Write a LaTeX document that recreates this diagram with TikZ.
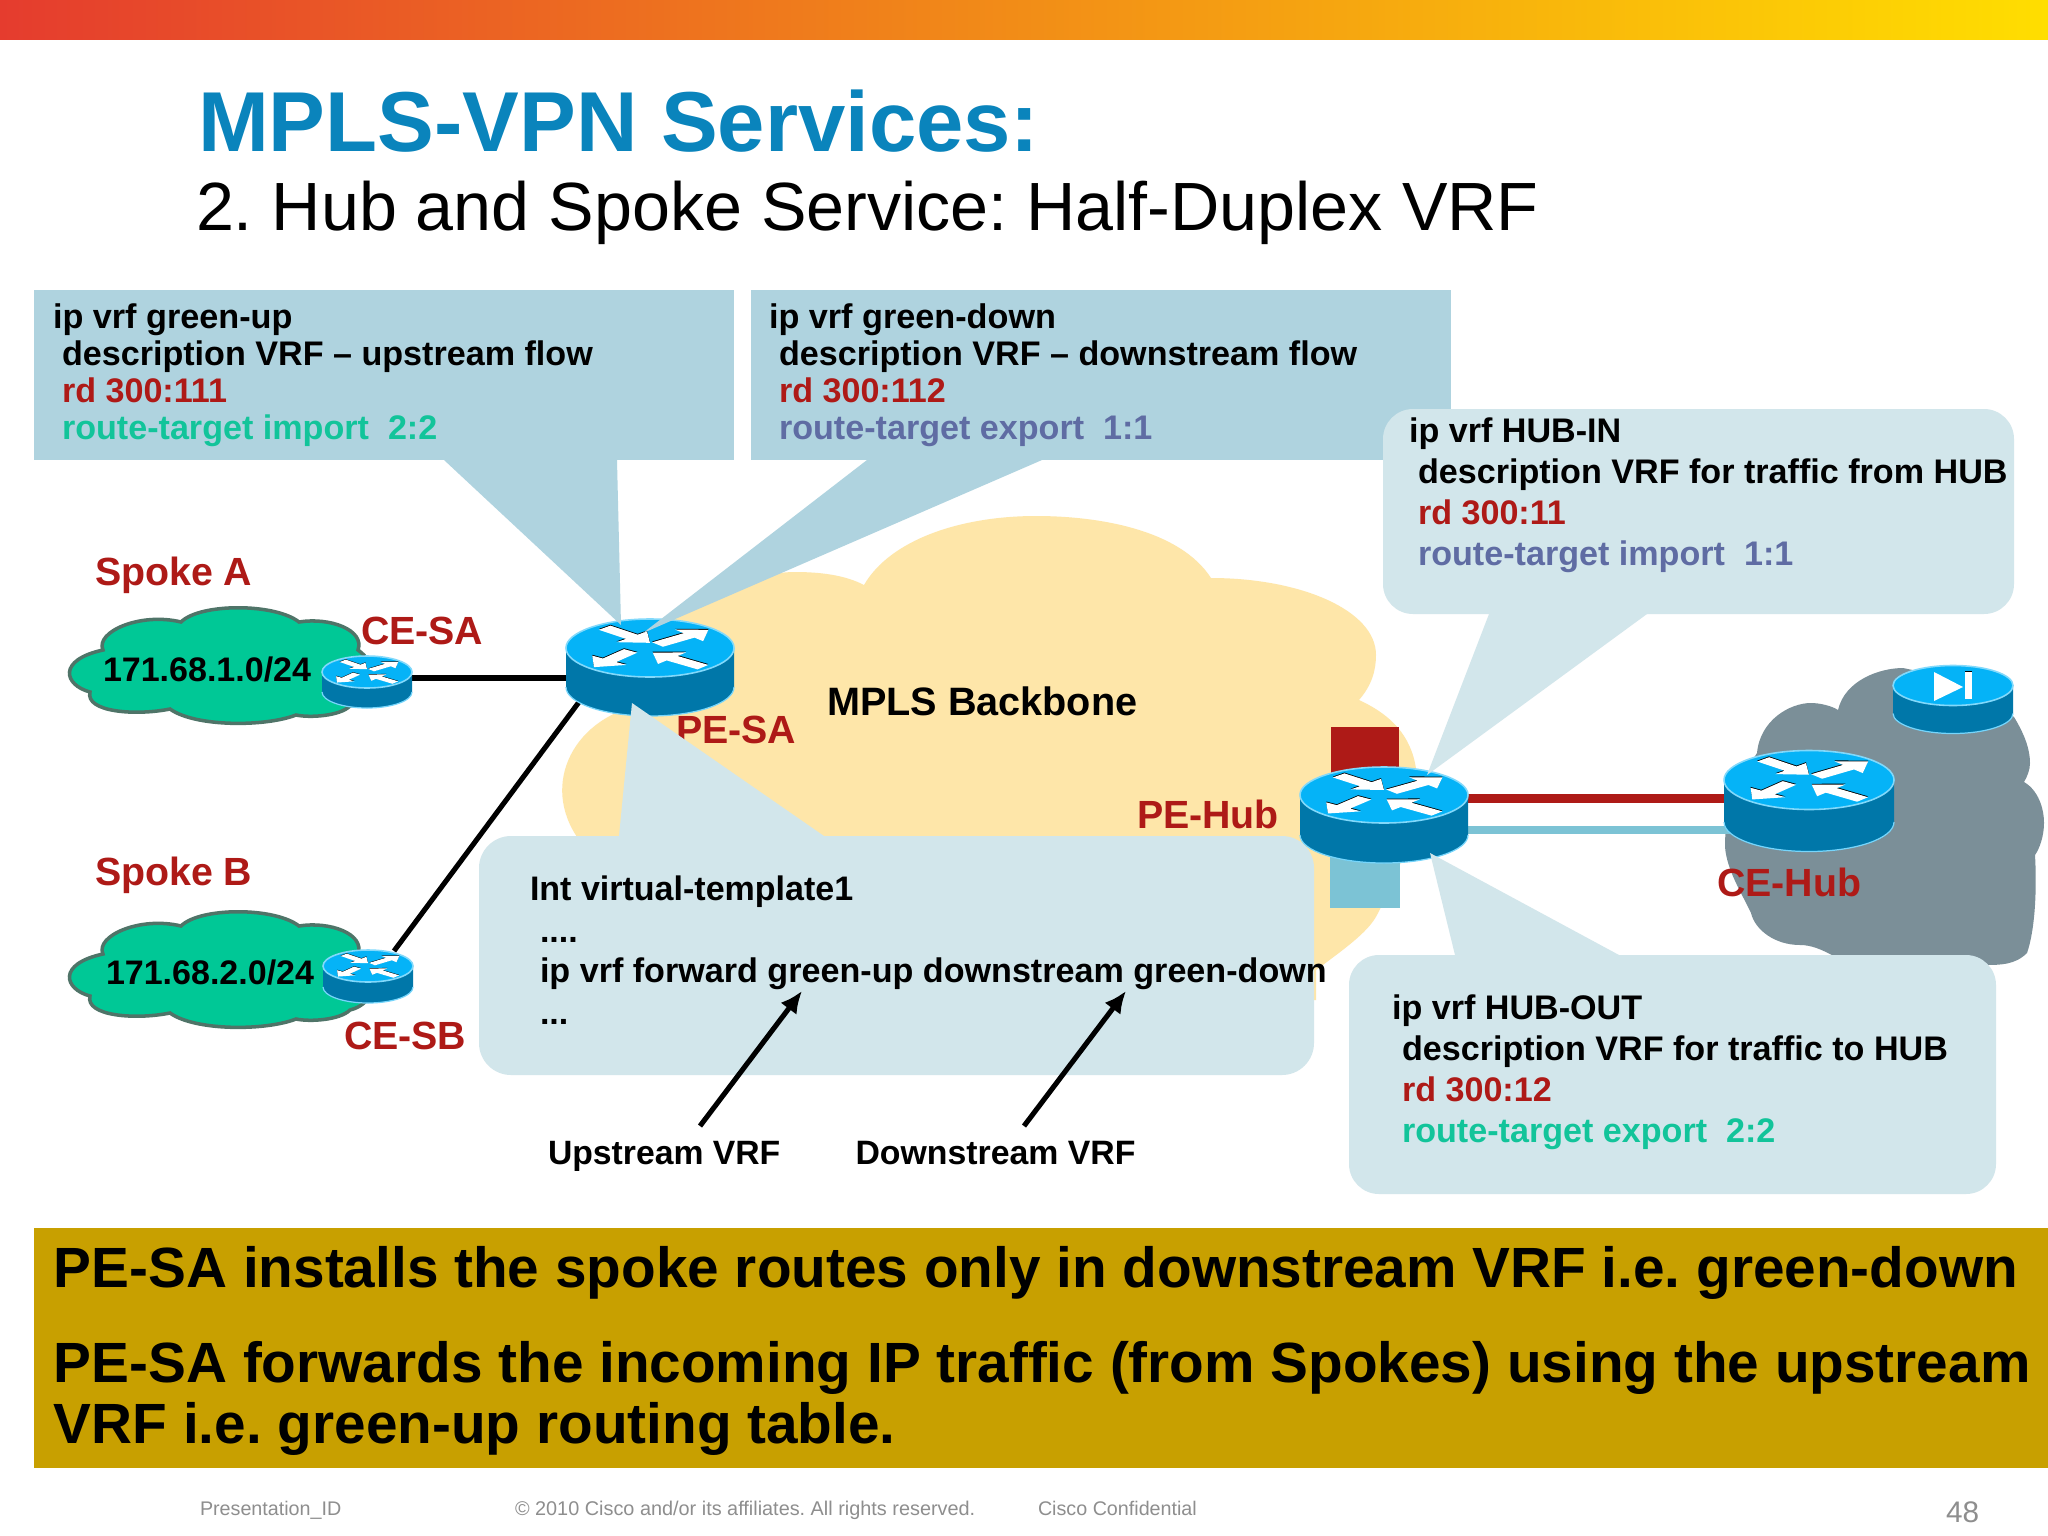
\documentclass[tikz,border=0pt]{standalone}
\usepackage{fontspec}
\setmainfont{Liberation Sans}
\frenchspacing
\usetikzlibrary{arrows.meta}
\definecolor{rtop}{HTML}{05B3F7}
\definecolor{rbody}{HTML}{0077A9}
\definecolor{redt}{HTML}{AE1A17}
\definecolor{greent}{HTML}{12C49A}
\definecolor{bluet}{HTML}{5F6CA3}
\definecolor{calldark}{HTML}{AFD3DF}
\definecolor{calllight}{HTML}{D2E6EB}
\definecolor{mpls}{HTML}{FEE6A9}
\definecolor{spoke}{HTML}{00C896}
\definecolor{spokeline}{HTML}{4F7468}
\definecolor{hubgray}{HTML}{7B8F98}
\definecolor{band}{HTML}{C8A000}
\definecolor{tealline}{HTML}{7CC3D5}
\definecolor{titleblue}{HTML}{0A84BC}
\definecolor{foot}{HTML}{8E8E8E}
\newcommand\fz[1]{\fontsize{\fpeval{#1*0.28453}}{\fpeval{#1*0.34}}\selectfont}
\newcommand\tl[6]{\node[textline,text=#5,font=\bfseries\fz{#4}] (#1) at (#2,#3) {#6};}
\newcommand\arrowshape[1]{(0,-.1) -- (#1-.3,-.1) -- (#1-.3,-.26) -- (#1,0) -- (#1-.3,.26) -- (#1-.3,.1) -- (0,.1) -- cycle}
\newcommand\rarrow[4]{%
  \begin{scope}[shift={(#1,#2+.03)},rotate=#3]
    \fill[black] \arrowshape{#4};
  \end{scope}
  \begin{scope}[shift={(#1,#2)},rotate=#3]
    \fill[white] \arrowshape{#4};
  \end{scope}}
\newcommand\drum[5]{% cx cy rx ry depth
  \begin{scope}[x=.01cm,y=.01cm,shift={(#1,-#2)},xscale=#3,yscale=#4]
    \fill[rbody] (-1,0) -- (-1,{-#5/#4}) arc[start angle=180,end angle=360,radius=1] -- (1,0) -- cycle;
    \draw[rtop!55!white,line width=.35pt] (-1,{-#5/#4}) arc[start angle=180,end angle=360,radius=1];
    \fill[rtop] (0,0) circle[radius=1];
    \draw[rtop!50!white,line width=.45pt] (0,0) circle[radius=1];
  \end{scope}}
\newcommand\router[5]{%
  \drum{#1}{#2}{#3}{#4}{#5}
  \begin{scope}[x=.01cm,y=.01cm,shift={(#1,-#2)},xscale=#3,yscale=#4]
    \rarrow{-.54}{.70}{-44}{.75}
    \rarrow{.09}{.12}{40}{.79}
    \rarrow{-.23}{-.10}{232}{.71}
    \rarrow{.63}{-.66}{140}{.78}
  \end{scope}}
\newcommand\spokecloud{%
  \filldraw[fill=spoke,draw=spokeline,line width=1pt]
    (90,692) .. controls (64,685) and (57,660) .. (103,650)
    .. controls (95,632) and (140,612) .. (181,622)
    .. controls (200,603) and (275,603) .. (299,622)
    .. controls (330,617) and (365,630) .. (358,650)
    .. controls (385,670) and (375,700) .. (350,706)
    .. controls (340,716) and (310,718) .. (296,715)
    .. controls (265,727) and (195,727) .. (170,709)
    .. controls (135,716) and (85,712) .. (90,692) -- cycle;}
\tikzset{textline/.style={anchor=base west,inner sep=0pt,outer sep=0pt}}
\begin{document}
\begin{tikzpicture}[x=.01cm,y=-.01cm]
\useasboundingbox (0,0) rectangle (2048,1536);
\fill[white] (0,0) rectangle (2048,1536);
% top gradient bar
\shade[left color={rgb,255:red,229;green,60;blue,46},middle color={rgb,255:red,240;green,170;blue,35},right color={rgb,255:red,255;green,222;blue,0}] (0,0) rectangle (2048,39);
% titles
\node[textline,text=titleblue,font=\bfseries\fz{85}] (title) at (198,151.5) {MPLS-VPN Services:};
\node[textline,text=black,font=\fz{68.2}] (subtitle) at (196,230) {2. Hub and Spoke Service: Half-Duplex VRF};
% clouds
\fill[mpls] (640,705) .. controls (570,720) and (538,790) .. (583,845) -- (700,1000) -- (1316,1000) -- (1316,970)
  .. controls (1350,945) and (1370,930) .. (1378,913)
  .. controls (1400,870) and (1425,810) .. (1415,763)
  .. controls (1408,730) and (1385,712) .. (1359,700)
  .. controls (1372,685) and (1376,670) .. (1376,655)
  .. controls (1376,610) and (1300,578) .. (1211,578)
  .. controls (1180,530) and (1100,516) .. (1036,516)
  .. controls (960,516) and (890,540) .. (864,585)
  .. controls (845,575) and (820,572) .. (795,572)
  .. controls (750,572) and (700,600) .. (640,640) -- cycle;
\fill[hubgray] (1725,847) .. controls (1725,800) and (1740,780) .. (1757,753)
  .. controls (1760,720) and (1790,703) .. (1811,703)
  .. controls (1820,703) and (1832,706) .. (1838,710)
  .. controls (1845,680) and (1880,668) .. (1903,668)
  -- (1960,680) -- (2014,717)
  .. controls (2025,735) and (2030,750) .. (2030,763)
  .. controls (2030,770) and (2027,777) .. (2024,782)
  .. controls (2038,790) and (2044,808) .. (2044,823)
  .. controls (2044,835) and (2040,848) .. (2035,855)
  .. controls (2037,890) and (2035,930) .. (2027,953)
  .. controls (2015,965) and (2000,965) .. (1984,965)
  -- (1832,955) .. controls (1822,950) and (1812,945) .. (1800,945)
  .. controls (1775,945) and (1755,930) .. (1751,913)
  .. controls (1740,890) and (1727,870) .. (1725,847) -- cycle;
\spokecloud
\begin{scope}[shift={(0,304)}]\spokecloud\end{scope}
% connector end points
\coordinate (cesa) at (400,678);
\coordinate (pesa) at (600,678);
\coordinate (cesb) at (394,951);
\coordinate (pesb) at (579,702);
\coordinate (hubl1) at (1440,798.5);
\coordinate (cel1) at (1750,798.5);
\coordinate (hubl2) at (1440,830);
\coordinate (cel2) at (1750,830);
\draw[black,line width=1.45pt] (cesa) -- (pesa);
\draw[black,line width=1.45pt] (cesb) -- (pesb);
\draw[redt,line width=2.42pt] (hubl1) -- (cel1);
\draw[tealline,line width=2.28pt] (hubl2) -- (cel2);
\fill[redt] (1331,727) rectangle (1399,775);
\fill[tealline] (1330,855) rectangle (1400,908);
% devices
\router{650}{648}{84}{29}{39}
\router{1384}{795}{84}{28}{40}
\router{1809}{780}{85}{29.5}{42}
\router{367}{672}{45}{16}{20}
\router{368}{966}{45}{16}{21}
\drum{1953}{685.5}{60}{20}{28}
\fill[white] (1934,672) -- (1934,701) -- (1963,687) -- cycle;
\fill[white] (1965,672) rectangle (1972,699);
\fill[black] (1965,671) rectangle (1972,672);
% labels under call-outs
\tl{spa}{95}{585}{39.3}{redt}{Spoke A}
\tl{spb}{95}{885}{39.3}{redt}{Spoke B}
\tl{cesal}{361}{644}{39.3}{redt}{CE-SA}
\tl{cesbl}{344}{1049}{39.3}{redt}{CE-SB}
\tl{neta}{103}{681}{34}{black}{171.68.1.0/24}
\tl{netb}{106}{984}{34}{black}{171.68.2.0/24}
\tl{pesal}{676}{743}{39.3}{redt}{PE-SA}
\tl{mplsl}{827}{715.5}{39.6}{black}{MPLS Backbone}
\tl{pehl}{1137}{828}{39.3}{redt}{PE-Hub}
\tl{cehl}{1717}{896}{39.3}{redt}{CE-Hub}
% call-outs
\fill[calldark] (444,460) -- (621,625) -- (617,460) -- cycle;
\fill[calldark] (867,460) -- (643,633) -- (1042,460) -- cycle;
\fill[calldark] (34,290) rectangle (734,460);
\fill[calldark] (751,290) rectangle (1451,460);
\fill[calllight] (619,836) -- (632,703) -- (824,836) -- cycle;
\fill[calllight,rounded corners=.32cm] (479,836) rectangle (1314,1075);
\fill[calllight] (1489,614) -- (1427,775) -- (1647,614) -- cycle;
\fill[calllight,rounded corners=.3cm] (1383,409) rectangle (2014,614);
\fill[calllight] (1455,955) -- (1430,853) -- (1619,955) -- cycle;
\fill[calllight,rounded corners=.3cm] (1349,955) rectangle (1996,1194);
% call-out texts
\tl{a1}{53}{328.5}{34.2}{black}{ip vrf green-up}
\tl{a2}{62}{365}{34.1}{black}{description VRF – upstream flow}
\tl{a3}{62}{402}{34.1}{redt}{rd 300:111}
\tl{a4}{62}{439}{34.1}{greent}{route-target import\ \ 2:2}
\tl{b1}{769}{328.5}{34.2}{black}{ip vrf green-down}
\tl{b2}{779}{365}{34.1}{black}{description VRF – downstream flow}
\tl{b3}{779}{402}{34.1}{redt}{rd 300:112}
\tl{b4}{779}{439}{34.1}{bluet}{route-target export\ \ 1:1}
\tl{c1}{1409}{442}{34.1}{black}{ip vrf HUB-IN}
\tl{c2}{1418}{483}{34.1}{black}{description VRF for traffic from HUB}
\tl{c3}{1418}{524}{34.1}{redt}{rd 300:11}
\tl{c4}{1418}{565}{34.1}{bluet}{route-target import\ \ 1:1}
\tl{d1}{1392}{1019.5}{34.1}{black}{ip vrf HUB-OUT}
\tl{d2}{1402}{1060.5}{34.1}{black}{description VRF for traffic to HUB}
\tl{d3}{1402}{1101.5}{34.1}{redt}{rd 300:12}
\tl{d4}{1402}{1142.5}{34.1}{greent}{route-target export\ \ 2:2}
\tl{e1}{530}{900}{34}{black}{Int virtual-template1}
\tl{e2}{540}{942}{34}{black}{....}
\tl{e3}{540}{982}{34.1}{black}{ip vrf forward green-up downstream green-down}
\tl{e4}{540}{1024}{34}{black}{...}
\tl{up}{548}{1164}{33.7}{black}{Upstream VRF}
\tl{down}{855.5}{1164}{33.8}{black}{Downstream VRF}
% pointer arrows
\coordinate (upfrom) at (700,1126);
\coordinate (upto) at (802,991);
\coordinate (downfrom) at (1024,1126);
\coordinate (downto) at (1126,991);
\draw[black,line width=1.45pt,-{Latex[length=.22cm,width=.2cm]}] (upfrom) -- (upto);
\draw[black,line width=1.45pt,-{Latex[length=.22cm,width=.2cm]}] (downfrom) -- (downto);
% bottom band
\fill[band] (34,1228) rectangle (2048,1468);
\tl{s1}{54}{1287}{56.7}{black}{PE-SA installs the spoke routes only in downstream VRF i.e. green-down}
\tl{s2}{54}{1382}{56.7}{black}{PE-SA forwards the incoming IP traffic (from Spokes) using the upstream}
\tl{s3}{54}{1443}{56.7}{black}{VRF i.e. green-up routing table.}
% footer
\node[textline,text=foot,font=\fz{19.7}] (f1) at (200,1515) {Presentation\_ID};
\node[textline,text=foot,font=\fz{19.85}] (f2) at (515,1515) {© 2010 Cisco and/or its affiliates. All rights reserved.};
\node[textline,text=foot,font=\fz{19.7}] (f3) at (1038,1515) {Cisco Confidential};
\node[textline,text=foot,font=\fz{29.7}] (f4) at (1946,1522) {48};
\end{tikzpicture}
\end{document}
